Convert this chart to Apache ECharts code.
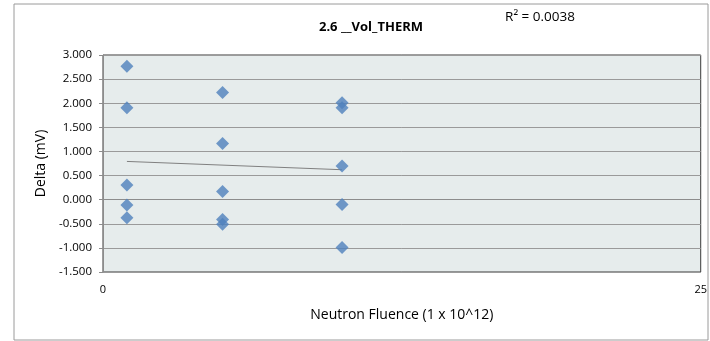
<!DOCTYPE html>
<html><head><meta charset="utf-8">
<script src="https://cdn.jsdelivr.net/npm/echarts@6/dist/echarts.min.js"></script>
<style>html,body{margin:0;padding:0;background:#fff}#c{width:710px;height:341px}</style>
</head><body><div id="c"></div>
<script>
const titleText = "2.6 __Vol_THERM";
const r2Text = "R² = 0.0038";
const xName = "Neutron Fluence (1 x 10^12)";
const yName = "Delta (mV)";
const fluence = [1,1,1,1,1, 5,5,5,5,5, 10,10,10,10,10];
const delta = [2.765,1.907,0.303,-0.11,-0.375, 2.22,1.167,0.17,-0.41,-0.51, 2.01,1.907,0.697,-0.10,-0.99];

const n = fluence.length;
const mx = fluence.reduce((a,b)=>a+b,0)/n;
const my = delta.reduce((a,b)=>a+b,0)/n;
let sxy=0,sxx=0;
for(let i=0;i<n;i++){sxy+=(fluence[i]-mx)*(delta[i]-my);sxx+=(fluence[i]-mx)**2;}
const slope=sxy/sxx, icpt=my-slope*mx;
const xmin=Math.min(...fluence), xmax=Math.max(...fluence);
const trend=[[xmin,icpt+slope*xmin],[xmax,icpt+slope*xmax]];

const F='"Open Sans", sans-serif';
const chart = echarts.init(document.getElementById('c'));
chart.setOption({
  animation:false,
  textStyle:{fontFamily:F},
  graphic:[
    {type:'rect',shape:{x:14,y:4,width:694,height:336},style:{fill:'none',stroke:'#9a9a9a',lineWidth:1}},
    {type:'text',x:371,y:27,style:{text:titleText,font:'bold 13px "Open Sans", sans-serif',fill:'#000',align:'center',verticalAlign:'middle'}},
    {type:'text',x:540,y:17,style:{text:r2Text,font:'13.5px "Open Sans", sans-serif',fill:'#000',align:'center',verticalAlign:'middle'}}
  ],
  grid:{left:103,right:7,top:55,bottom:69,show:true,backgroundColor:'#E6ECEC',borderColor:'#3a3a3a',borderWidth:1},
  xAxis:{type:'value',min:0,max:25,interval:25,name:xName,nameLocation:'middle',nameGap:36,
    nameTextStyle:{fontSize:14,color:'#000',fontFamily:F},
    axisLine:{lineStyle:{color:'#8c8c8c'}},axisTick:{show:false},splitLine:{show:false},
    axisLabel:{fontSize:11,color:'#000',margin:12,fontFamily:F}},
  yAxis:{type:'value',min:-1.5,max:3,interval:0.5,name:yName,nameLocation:'middle',nameGap:52,
    nameTextStyle:{fontSize:14,color:'#000',fontFamily:F},
    axisLine:{show:true,lineStyle:{color:'#8c8c8c'}},axisTick:{show:true,length:4,lineStyle:{color:'#8c8c8c'}},
    splitLine:{lineStyle:{color:'#9a9a9a'}},
    axisLabel:{fontSize:11.5,color:'#000',margin:11,formatter:v=>v.toFixed(3),fontFamily:F}},
  series:[
    {type:'scatter',symbol:'diamond',symbolSize:13,itemStyle:{color:'#4F81BD'},data:fluence.map((x,i)=>[x,delta[i]]),z:3},
    {type:'line',data:trend,symbol:'none',lineStyle:{color:'#808080',width:1},z:2}
  ]
});
</script></body></html>
